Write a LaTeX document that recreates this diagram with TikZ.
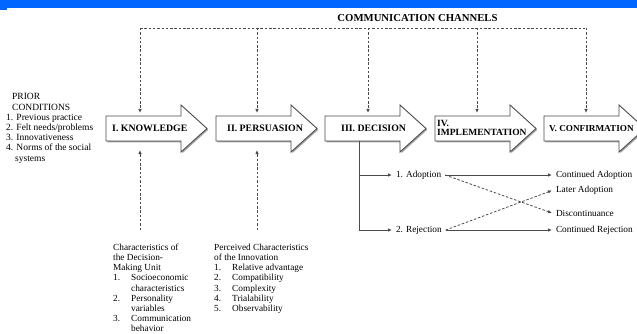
\documentclass[tikz,border=0pt]{standalone}
\usepackage{fontspec}
\setmainfont{Liberation Serif}
\usetikzlibrary{arrows.meta}

\definecolor{topbar}{RGB}{0,102,255}
\definecolor{linegray}{RGB}{75,75,75}

\tikzset{
  stagearrow/.style={draw=linegray, line width=0.9pt, fill=white},
  stageshadow/.style={fill=black!35, draw=none},
  stagelabel/.style={font=\fontsize{9.8}{9.5}\selectfont\bfseries, anchor=west,
    inner sep=0pt, align=left},
  channel/.style={draw=linegray, line width=0.9pt, dash pattern=on 2.5pt off 1.8pt},
  channelarrow/.style={channel, -{Latex[length=4pt,width=3.5pt]}},
  flow/.style={draw=linegray, line width=0.8pt, -{Latex[length=4pt,width=3.5pt]}},
  dashflow/.style={flow, dash pattern=on 2.5pt off 1.8pt},
  smalltext/.style={font=\fontsize{9.3}{10.2}\selectfont, inner sep=0pt, align=left},
  outcome/.style={smalltext, anchor=west, inner sep=2pt, outer sep=2pt},
}

\begin{document}
\begin{tikzpicture}[x=1pt, y=-1pt]
  \useasboundingbox (0,0) rectangle (637,334);

  % blue band at the top
  \fill[topbar] (0,0) rectangle (637,8);
  \fill[topbar] (0,8) rectangle (7,10);

  \node (channels) at (417.5,18)
    {\fontsize{10.7}{11}\selectfont\bfseries COMMUNICATION CHANNELS};

  % the five stages
  \foreach \x/\n/\c in {106/know/140, 216/pers/257, 325/dec/368, 435/impl/477, 544/conf/586} {
    \fill[stageshadow] (\x+1.3,117.3) -- ++(75,0) -- ++(0,-11) -- ++(26,23.5)
      -- ++(-26,23.5) -- ++(0,-11) -- ++(-75,0) -- cycle;
    \draw[stagearrow] (\x,116) -- ++(75,0) -- ++(0,-11) -- ++(26,23.5)
      -- ++(-26,23.5) -- ++(0,-11) -- ++(-75,0) -- cycle;
    \coordinate (\n-ch) at (\c,28);
    \coordinate (\n-top) at (\c,116);
    \coordinate (\n-bot) at (\c,141);
  }
  \node[stagelabel] (know) at (112,128.5) {I. KNOWLEDGE};
  \node[stagelabel] (pers) at (227,128.5) {II. PERSUASION};
  \node[stagelabel] (dec) at (341,128.5) {III. DECISION};
  \node[stagelabel, font=\fontsize{9.5}{9}\selectfont\bfseries] (impl) at (437,127.5)
    {IV.\\IMPLEMENTATION};
  \node[stagelabel, font=\fontsize{9.2}{9.5}\selectfont\bfseries] (conf) at (549,128.5)
    {V. CONFIRMATION};

  % communication channels
  \draw[channel] (know-ch) -- (conf-ch);
  \foreach \n in {know, pers, dec, impl, conf}
    \draw[channelarrow, shorten >=3pt] (\n-ch) -- (\n-top);

  % prior conditions
  \node[smalltext, anchor=north west, font=\fontsize{9.5}{10.2}\selectfont] (prior) at (6,93.5)
    {\makebox[6pt]{}PRIOR\\
     \makebox[6pt]{}CONDITIONS\\
     1. Previous practice\\
     2. Felt needs/problems\\
     3. Innovativeness\\
     4. Norms of the social\\
     \makebox[9pt]{}systems};

  % characteristics below knowledge and persuasion
  \node[smalltext, anchor=north west] (unit) at (113,243)
    {\begin{tabular}{@{}p{18pt}@{}l@{}}
       \multicolumn{2}{@{}l@{}}{Characteristics of}\\
       \multicolumn{2}{@{}l@{}}{the Decision-}\\
       \multicolumn{2}{@{}l@{}}{Making Unit}\\
       1. & Socioeconomic\\
          & characteristics\\
       2. & Personality\\
          & variables\\
       3. & Communication\\
          & behavior
     \end{tabular}};
  \node[smalltext, anchor=north west] (perceived) at (214,243)
    {\begin{tabular}{@{}p{18pt}@{}l@{}}
       \multicolumn{2}{@{}l@{}}{Perceived Characteristics}\\
       \multicolumn{2}{@{}l@{}}{of the Innovation}\\
       1. & Relative advantage\\
       2. & Compatibility\\
       3. & Complexity\\
       4. & Trialability\\
       5. & Observability
     \end{tabular}};
  \coordinate (unit-src) at (140,230);
  \coordinate (perc-src) at (257,230);
  \draw[channelarrow, shorten >=9pt] (unit-src) -- (know-bot);
  \draw[channelarrow, shorten >=9pt] (perc-src) -- (pers-bot);

  % decision outcomes
  \node[outcome] (adopt) at (392,175) {1. Adoption};
  \node[outcome] (reject) at (392,230) {2. Rejection};
  \node[outcome] (contad) at (552,175) {Continued Adoption};
  \node[outcome] (later) at (552,190.5) {Later Adoption};
  \node[outcome] (discont) at (552,213) {Discontinuance};
  \node[outcome] (contrej) at (552,230) {Continued Rejection};

  \coordinate (dec-out) at (359,141);
  \draw[flow] (dec-out) |- (adopt.west);
  \draw[flow] (dec-out) |- (reject.west);
  \draw[flow] (adopt.east) -- (contad.west);
  \draw[flow] (reject.east) -- (contrej.west);
  \draw[dashflow] (adopt.east) -- (discont.west);
  \draw[dashflow] (reject.east) -- (later.west);
\end{tikzpicture}
\end{document}
